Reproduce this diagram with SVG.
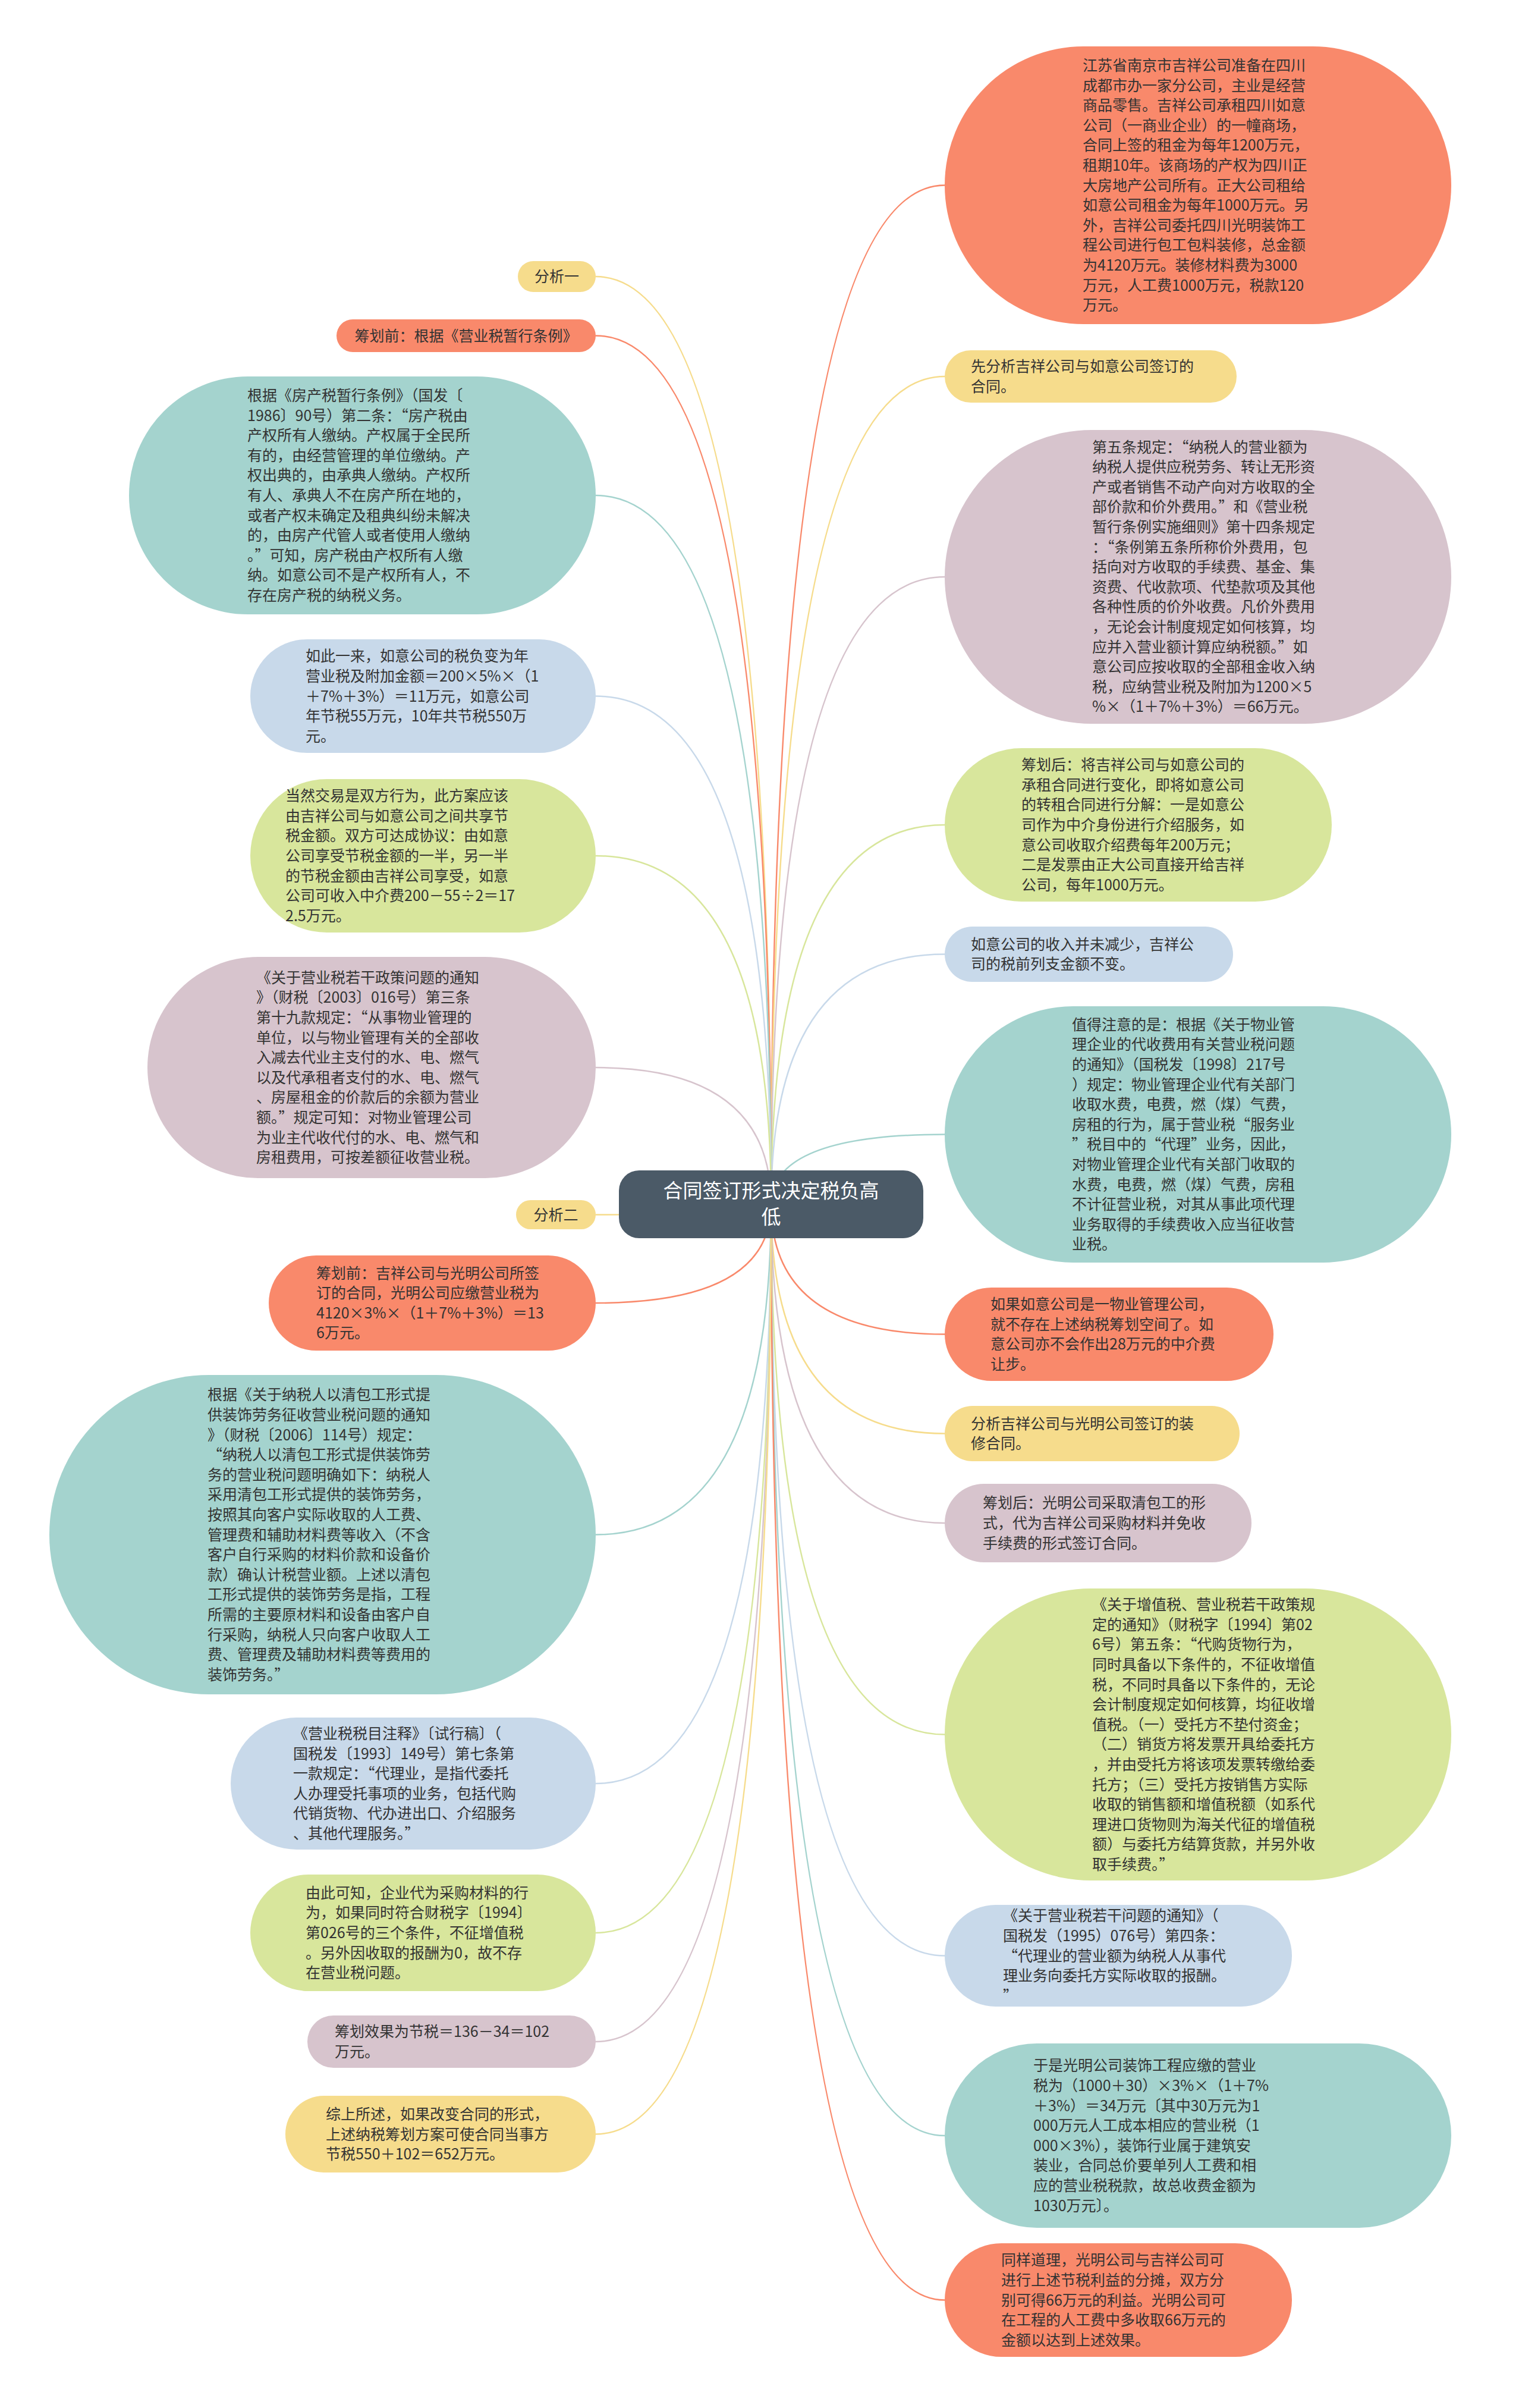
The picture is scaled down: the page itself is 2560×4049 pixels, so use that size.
<svg xmlns="http://www.w3.org/2000/svg" width="2560" height="4049" viewBox="0 0 2560 4049">
<style>
.t{font-family:"Noto Sans CJK SC","Liberation Sans",sans-serif;font-size:25px;fill:#333333}
.ct{font-family:"Noto Sans CJK SC","Liberation Sans",sans-serif;font-size:33px;fill:#ffffff}
.coral{fill:#f9896b}.yellow{fill:#f6dc8c}.mauve{fill:#d7c4cd}.green{fill:#d8e69c}.blue{fill:#c8d9ea}.teal{fill:#a4d3ce}
.lk{fill:none;stroke-width:2.5}
.s-coral{stroke:#f9896b}.s-yellow{stroke:#f6dc8c}.s-mauve{stroke:#d7c4cd}.s-green{stroke:#d8e69c}.s-blue{stroke:#c8d9ea}.s-teal{stroke:#a4d3ce}
</style>
<rect width="2560" height="4049" fill="#ffffff"/>
<g id="connectors">
<path class="lk s-coral" d="M1297 2025 Q1297 311.5 1589 311.5"/>
<path class="lk s-yellow" d="M1297 2025 Q1297 633 1589 633"/>
<path class="lk s-mauve" d="M1297 2025 Q1297 970 1589 970"/>
<path class="lk s-green" d="M1297 2025 Q1297 1387 1589 1387"/>
<path class="lk s-blue" d="M1297 2025 Q1297 1604.5 1589 1604.5"/>
<path class="lk s-teal" d="M1297 2025 Q1297 1907.5 1589 1907.5"/>
<path class="lk s-coral" d="M1297 2025 Q1297 2243.5 1589 2243.5"/>
<path class="lk s-yellow" d="M1297 2025 Q1297 2410.5 1589 2410.5"/>
<path class="lk s-mauve" d="M1297 2025 Q1297 2561 1589 2561"/>
<path class="lk s-green" d="M1297 2025 Q1297 2916.5 1589 2916.5"/>
<path class="lk s-blue" d="M1297 2025 Q1297 3288.5 1589 3288.5"/>
<path class="lk s-teal" d="M1297 2025 Q1297 3591 1589 3591"/>
<path class="lk s-coral" d="M1297 2025 Q1297 3867.5 1589 3867.5"/>
<path class="lk s-yellow" d="M1297 2025 Q1297 465 1002 465"/>
<path class="lk s-coral" d="M1297 2025 Q1297 564.5 1002 564.5"/>
<path class="lk s-teal" d="M1297 2025 Q1297 833 1002 833"/>
<path class="lk s-blue" d="M1297 2025 Q1297 1170.5 1002 1170.5"/>
<path class="lk s-green" d="M1297 2025 Q1297 1439 1002 1439"/>
<path class="lk s-mauve" d="M1297 2025 Q1297 1795 1002 1795"/>
<path class="lk s-yellow" d="M1297 2025 Q1297 2042.5 1002 2042.5"/>
<path class="lk s-coral" d="M1297 2025 Q1297 2191 1002 2191"/>
<path class="lk s-teal" d="M1297 2025 Q1297 2580.5 1002 2580.5"/>
<path class="lk s-blue" d="M1297 2025 Q1297 2999 1002 2999"/>
<path class="lk s-green" d="M1297 2025 Q1297 3250 1002 3250"/>
<path class="lk s-mauve" d="M1297 2025 Q1297 3433 1002 3433"/>
<path class="lk s-yellow" d="M1297 2025 Q1297 3588.5 1002 3588.5"/>
</g>
<g id="center">
<rect x="1041" y="1968" width="512" height="114" rx="34" fill="#4b5a67"/>
<text class="ct" text-anchor="middle"><tspan x="1297" y="2014">合同签订形式决定税负高</tspan><tspan x="1297" dy="44">低</tspan></text>
</g>
<g id="r1">
<rect class="coral" x="1589" y="78" width="852" height="467" rx="233.5"/>
<text class="t"><tspan x="1821" y="118.9">江苏省南京市吉祥公司准备在四川</tspan><tspan x="1821" dy="33.6">成都市办一家分公司，主业是经营</tspan><tspan x="1821" dy="33.6">商品零售。吉祥公司承租四川如意</tspan><tspan x="1821" dy="33.6">公司（一商业企业）的一幢商场，</tspan><tspan x="1821" dy="33.6">合同上签的租金为每年1200万元，</tspan><tspan x="1821" dy="33.6">租期10年。该商场的产权为四川正</tspan><tspan x="1821" dy="33.6">大房地产公司所有。正大公司租给</tspan><tspan x="1821" dy="33.6">如意公司租金为每年1000万元。另</tspan><tspan x="1821" dy="33.6">外，吉祥公司委托四川光明装饰工</tspan><tspan x="1821" dy="33.6">程公司进行包工包料装修，总金额</tspan><tspan x="1821" dy="33.6">为4120万元。装修材料费为3000</tspan><tspan x="1821" dy="33.6">万元，人工费1000万元，税款120</tspan><tspan x="1821" dy="33.6">万元。</tspan></text>
</g>
<g id="r2">
<rect class="yellow" x="1589" y="589" width="491" height="88" rx="44"/>
<text class="t"><tspan x="1633" y="625.2">先分析吉祥公司与如意公司签订的</tspan><tspan x="1633" dy="33.6">合同。</tspan></text>
</g>
<g id="r3">
<rect class="mauve" x="1589" y="723" width="852" height="494" rx="247"/>
<text class="t"><tspan x="1837" y="760.6">第五条规定：“纳税人的营业额为</tspan><tspan x="1837" dy="33.6">纳税人提供应税劳务、转让无形资</tspan><tspan x="1837" dy="33.6">产或者销售不动产向对方收取的全</tspan><tspan x="1837" dy="33.6">部价款和价外费用。”和《营业税</tspan><tspan x="1837" dy="33.6">暂行条例实施细则》第十四条规定</tspan><tspan x="1837" dy="33.6">：“条例第五条所称价外费用，包</tspan><tspan x="1837" dy="33.6">括向对方收取的手续费、基金、集</tspan><tspan x="1837" dy="33.6">资费、代收款项、代垫款项及其他</tspan><tspan x="1837" dy="33.6">各种性质的价外收费。凡价外费用</tspan><tspan x="1837" dy="33.6">，无论会计制度规定如何核算，均</tspan><tspan x="1837" dy="33.6">应并入营业额计算应纳税额。”如</tspan><tspan x="1837" dy="33.6">意公司应按收取的全部租金收入纳</tspan><tspan x="1837" dy="33.6">税，应纳营业税及附加为1200×5</tspan><tspan x="1837" dy="33.6">%×（1＋7%＋3%）＝66万元。</tspan></text>
</g>
<g id="r4">
<rect class="green" x="1589" y="1258" width="651" height="258" rx="129"/>
<text class="t"><tspan x="1718" y="1295.2">筹划后：将吉祥公司与如意公司的</tspan><tspan x="1718" dy="33.6">承租合同进行变化，即将如意公司</tspan><tspan x="1718" dy="33.6">的转租合同进行分解：一是如意公</tspan><tspan x="1718" dy="33.6">司作为中介身份进行介绍服务，如</tspan><tspan x="1718" dy="33.6">意公司收取介绍费每年200万元；</tspan><tspan x="1718" dy="33.6">二是发票由正大公司直接开给吉祥</tspan><tspan x="1718" dy="33.6">公司，每年1000万元。</tspan></text>
</g>
<g id="r5">
<rect class="blue" x="1589" y="1558" width="485" height="93" rx="46.5"/>
<text class="t"><tspan x="1633" y="1596.7">如意公司的收入并未减少，吉祥公</tspan><tspan x="1633" dy="33.6">司的税前列支金额不变。</tspan></text>
</g>
<g id="r6">
<rect class="teal" x="1589" y="1692" width="852" height="431" rx="215.5"/>
<text class="t"><tspan x="1803" y="1731.7">值得注意的是：根据《关于物业管</tspan><tspan x="1803" dy="33.6">理企业的代收费用有关营业税问题</tspan><tspan x="1803" dy="33.6">的通知》（国税发〔1998〕217号</tspan><tspan x="1803" dy="33.6">）规定：物业管理企业代有关部门</tspan><tspan x="1803" dy="33.6">收取水费，电费，燃（煤）气费，</tspan><tspan x="1803" dy="33.6">房租的行为，属于营业税“服务业</tspan><tspan x="1803" dy="33.6">”税目中的“代理”业务，因此，</tspan><tspan x="1803" dy="33.6">对物业管理企业代有关部门收取的</tspan><tspan x="1803" dy="33.6">水费，电费，燃（煤）气费，房租</tspan><tspan x="1803" dy="33.6">不计征营业税，对其从事此项代理</tspan><tspan x="1803" dy="33.6">业务取得的手续费收入应当征收营</tspan><tspan x="1803" dy="33.6">业税。</tspan></text>
</g>
<g id="r7">
<rect class="coral" x="1589" y="2165" width="553" height="157" rx="78.5"/>
<text class="t"><tspan x="1666" y="2202.1">如果如意公司是一物业管理公司，</tspan><tspan x="1666" dy="33.6">就不存在上述纳税筹划空间了。如</tspan><tspan x="1666" dy="33.6">意公司亦不会作出28万元的中介费</tspan><tspan x="1666" dy="33.6">让步。</tspan></text>
</g>
<g id="r8">
<rect class="yellow" x="1589" y="2364" width="496" height="93" rx="46.5"/>
<text class="t"><tspan x="1633" y="2402.7">分析吉祥公司与光明公司签订的装</tspan><tspan x="1633" dy="33.6">修合同。</tspan></text>
</g>
<g id="r9">
<rect class="mauve" x="1589" y="2495" width="516" height="132" rx="66"/>
<text class="t"><tspan x="1653" y="2536.4">筹划后：光明公司采取清包工的形</tspan><tspan x="1653" dy="33.6">式，代为吉祥公司采购材料并免收</tspan><tspan x="1653" dy="33.6">手续费的形式签订合同。</tspan></text>
</g>
<g id="r10">
<rect class="green" x="1589" y="2671" width="852" height="491" rx="245.5"/>
<text class="t"><tspan x="1837" y="2707.1">《关于增值税、营业税若干政策规</tspan><tspan x="1837" dy="33.6">定的通知》（财税字〔1994〕第02</tspan><tspan x="1837" dy="33.6">6号）第五条：“代购货物行为，</tspan><tspan x="1837" dy="33.6">同时具备以下条件的，不征收增值</tspan><tspan x="1837" dy="33.6">税，不同时具备以下条件的，无论</tspan><tspan x="1837" dy="33.6">会计制度规定如何核算，均征收增</tspan><tspan x="1837" dy="33.6">值税。（一）受托方不垫付资金；</tspan><tspan x="1837" dy="33.6">（二）销货方将发票开具给委托方</tspan><tspan x="1837" dy="33.6">，并由受托方将该项发票转缴给委</tspan><tspan x="1837" dy="33.6">托方；（三）受托方按销售方实际</tspan><tspan x="1837" dy="33.6">收取的销售额和增值税额（如系代</tspan><tspan x="1837" dy="33.6">理进口货物则为海关代征的增值税</tspan><tspan x="1837" dy="33.6">额）与委托方结算货款，并另外收</tspan><tspan x="1837" dy="33.6">取手续费。”</tspan></text>
</g>
<g id="r11">
<rect class="blue" x="1589" y="3203" width="584" height="171" rx="85.5"/>
<text class="t"><tspan x="1687" y="3230.3">《关于营业税若干问题的通知》（</tspan><tspan x="1687" dy="33.6">国税发（1995）076号）第四条：</tspan><tspan x="1687" dy="33.6">“代理业的营业额为纳税人从事代</tspan><tspan x="1687" dy="33.6">理业务向委托方实际收取的报酬。</tspan><tspan x="1687" dy="33.6">”</tspan></text>
</g>
<g id="r12">
<rect class="teal" x="1589" y="3436" width="852" height="310" rx="155"/>
<text class="t"><tspan x="1738" y="3482.4">于是光明公司装饰工程应缴的营业</tspan><tspan x="1738" dy="33.6">税为（1000＋30）×3%×（1＋7%</tspan><tspan x="1738" dy="33.6">＋3%）＝34万元〔其中30万元为1</tspan><tspan x="1738" dy="33.6">000万元人工成本相应的营业税（1</tspan><tspan x="1738" dy="33.6">000×3%），装饰行业属于建筑安</tspan><tspan x="1738" dy="33.6">装业，合同总价要单列人工费和相</tspan><tspan x="1738" dy="33.6">应的营业税税款，故总收费金额为</tspan><tspan x="1738" dy="33.6">1030万元〕。</tspan></text>
</g>
<g id="r13">
<rect class="coral" x="1589" y="3772" width="584" height="191" rx="95.5"/>
<text class="t"><tspan x="1684" y="3809.3">同样道理，光明公司与吉祥公司可</tspan><tspan x="1684" dy="33.6">进行上述节税利益的分摊，双方分</tspan><tspan x="1684" dy="33.6">别可得66万元的利益。光明公司可</tspan><tspan x="1684" dy="33.6">在工程的人工费中多收取66万元的</tspan><tspan x="1684" dy="33.6">金额以达到上述效果。</tspan></text>
</g>
<g id="l1">
<rect class="yellow" x="871" y="439" width="131" height="52" rx="26"/>
<text class="t" x="936.5" y="474" text-anchor="middle">分析一</text>
</g>
<g id="l2">
<rect class="coral" x="566" y="537" width="436" height="55" rx="27.5"/>
<text class="t" x="784" y="573.5" text-anchor="middle">筹划前：根据《营业税暂行条例》</text>
</g>
<g id="l3">
<rect class="teal" x="217" y="633" width="785" height="400" rx="200"/>
<text class="t"><tspan x="416" y="674">根据《房产税暂行条例》（国发〔</tspan><tspan x="416" dy="33.6">1986〕90号）第二条：“房产税由</tspan><tspan x="416" dy="33.6">产权所有人缴纳。产权属于全民所</tspan><tspan x="416" dy="33.6">有的，由经营管理的单位缴纳。产</tspan><tspan x="416" dy="33.6">权出典的，由承典人缴纳。产权所</tspan><tspan x="416" dy="33.6">有人、承典人不在房产所在地的，</tspan><tspan x="416" dy="33.6">或者产权未确定及租典纠纷未解决</tspan><tspan x="416" dy="33.6">的，由房产代管人或者使用人缴纳</tspan><tspan x="416" dy="33.6">。”可知，房产税由产权所有人缴</tspan><tspan x="416" dy="33.6">纳。如意公司不是产权所有人，不</tspan><tspan x="416" dy="33.6">存在房产税的纳税义务。</tspan></text>
</g>
<g id="l4">
<rect class="blue" x="421" y="1075" width="581" height="191" rx="95.5"/>
<text class="t"><tspan x="514" y="1112.3">如此一来，如意公司的税负变为年</tspan><tspan x="514" dy="33.6">营业税及附加金额＝200×5%×（1</tspan><tspan x="514" dy="33.6">＋7%＋3%）＝11万元，如意公司</tspan><tspan x="514" dy="33.6">年节税55万元，10年共节税550万</tspan><tspan x="514" dy="33.6">元。</tspan></text>
</g>
<g id="l5">
<rect class="green" x="421" y="1310" width="581" height="258" rx="129"/>
<text class="t"><tspan x="480" y="1347.2">当然交易是双方行为，此方案应该</tspan><tspan x="480" dy="33.6">由吉祥公司与如意公司之间共享节</tspan><tspan x="480" dy="33.6">税金额。双方可达成协议：由如意</tspan><tspan x="480" dy="33.6">公司享受节税金额的一半，另一半</tspan><tspan x="480" dy="33.6">的节税金额由吉祥公司享受，如意</tspan><tspan x="480" dy="33.6">公司可收入中介费200－55÷2＝17</tspan><tspan x="480" dy="33.6">2.5万元。</tspan></text>
</g>
<g id="l6">
<rect class="mauve" x="248" y="1609" width="754" height="372" rx="186"/>
<text class="t"><tspan x="431" y="1652.8">《关于营业税若干政策问题的通知</tspan><tspan x="431" dy="33.6">》（财税〔2003〕016号）第三条</tspan><tspan x="431" dy="33.6">第十九款规定：“从事物业管理的</tspan><tspan x="431" dy="33.6">单位，以与物业管理有关的全部收</tspan><tspan x="431" dy="33.6">入减去代业主支付的水、电、燃气</tspan><tspan x="431" dy="33.6">以及代承租者支付的水、电、燃气</tspan><tspan x="431" dy="33.6">、房屋租金的价款后的余额为营业</tspan><tspan x="431" dy="33.6">额。”规定可知：对物业管理公司</tspan><tspan x="431" dy="33.6">为业主代收代付的水、电、燃气和</tspan><tspan x="431" dy="33.6">房租费用，可按差额征收营业税。</tspan></text>
</g>
<g id="l7">
<rect class="yellow" x="868" y="2018" width="134" height="49" rx="24.5"/>
<text class="t" x="935" y="2051.5" text-anchor="middle">分析二</text>
</g>
<g id="l8">
<rect class="coral" x="452" y="2111" width="550" height="160" rx="80"/>
<text class="t"><tspan x="532" y="2149.6">筹划前：吉祥公司与光明公司所签</tspan><tspan x="532" dy="33.6">订的合同，光明公司应缴营业税为</tspan><tspan x="532" dy="33.6">4120×3%×（1＋7%＋3%）＝13</tspan><tspan x="532" dy="33.6">6万元。</tspan></text>
</g>
<g id="l9">
<rect class="teal" x="83" y="2312" width="919" height="537" rx="268.5"/>
<text class="t"><tspan x="349" y="2354.3">根据《关于纳税人以清包工形式提</tspan><tspan x="349" dy="33.6">供装饰劳务征收营业税问题的通知</tspan><tspan x="349" dy="33.6">》（财税〔2006〕114号）规定：</tspan><tspan x="349" dy="33.6">“纳税人以清包工形式提供装饰劳</tspan><tspan x="349" dy="33.6">务的营业税问题明确如下：纳税人</tspan><tspan x="349" dy="33.6">采用清包工形式提供的装饰劳务，</tspan><tspan x="349" dy="33.6">按照其向客户实际收取的人工费、</tspan><tspan x="349" dy="33.6">管理费和辅助材料费等收入（不含</tspan><tspan x="349" dy="33.6">客户自行采购的材料价款和设备价</tspan><tspan x="349" dy="33.6">款）确认计税营业额。上述以清包</tspan><tspan x="349" dy="33.6">工形式提供的装饰劳务是指，工程</tspan><tspan x="349" dy="33.6">所需的主要原材料和设备由客户自</tspan><tspan x="349" dy="33.6">行采购，纳税人只向客户收取人工</tspan><tspan x="349" dy="33.6">费、管理费及辅助材料费等费用的</tspan><tspan x="349" dy="33.6">装饰劳务。”</tspan></text>
</g>
<g id="l10">
<rect class="blue" x="388" y="2888" width="614" height="222" rx="111"/>
<text class="t"><tspan x="493" y="2924">《营业税税目注释》〔试行稿〕（</tspan><tspan x="493" dy="33.6">国税发〔1993〕149号）第七条第</tspan><tspan x="493" dy="33.6">一款规定：“代理业，是指代委托</tspan><tspan x="493" dy="33.6">人办理受托事项的业务，包括代购</tspan><tspan x="493" dy="33.6">代销货物、代办进出口、介绍服务</tspan><tspan x="493" dy="33.6">、其他代理服务。”</tspan></text>
</g>
<g id="l11">
<rect class="green" x="421" y="3152" width="581" height="196" rx="98"/>
<text class="t"><tspan x="514" y="3191.8">由此可知，企业代为采购材料的行</tspan><tspan x="514" dy="33.6">为，如果同时符合财税字〔1994〕</tspan><tspan x="514" dy="33.6">第026号的三个条件，不征增值税</tspan><tspan x="514" dy="33.6">。另外因收取的报酬为0，故不存</tspan><tspan x="514" dy="33.6">在营业税问题。</tspan></text>
</g>
<g id="l12">
<rect class="mauve" x="517" y="3389" width="485" height="88" rx="44"/>
<text class="t"><tspan x="563" y="3425.2">筹划效果为节税＝136－34＝102</tspan><tspan x="563" dy="33.6">万元。</tspan></text>
</g>
<g id="l13">
<rect class="yellow" x="480" y="3524" width="522" height="129" rx="64.5"/>
<text class="t"><tspan x="548" y="3563.9">综上所述，如果改变合同的形式，</tspan><tspan x="548" dy="33.6">上述纳税筹划方案可使合同当事方</tspan><tspan x="548" dy="33.6">节税550＋102＝652万元。</tspan></text>
</g>
</svg>
